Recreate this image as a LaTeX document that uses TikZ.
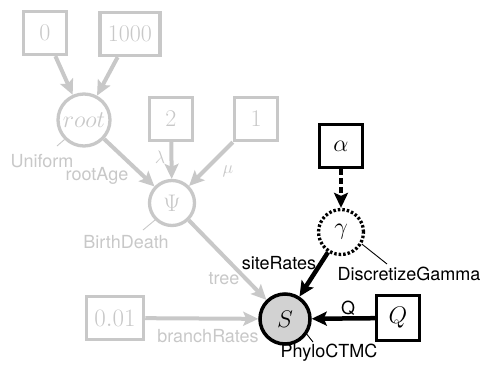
\RequirePackage{fix-cm}
\documentclass[tikz,border=0pt]{standalone}
\usepackage{fontspec}
\setsansfont{TeX Gyre Heros}
\usetikzlibrary{arrows.meta}
\definecolor{lg}{RGB}{200,200,200}
\definecolor{sfill}{RGB}{210,210,210}
\begin{document}
\begin{tikzpicture}[x=1pt,y=-1pt,
  mathf/.style={font=\fontsize{24}{28}\selectfont},
  lab/.style={font=\sffamily\fontsize{18}{21}\selectfont, inner sep=0pt},
  glab/.style={lab, text=lg},
  gbox/.style={draw=lg, line width=3.3pt, minimum width=43pt, minimum height=43pt, inner sep=8pt, text=lg, mathf},
  bbox/.style={draw=black, line width=3.3pt, minimum width=43pt, minimum height=43pt, inner sep=8pt, mathf},
  gcirc/.style={circle, draw=lg, line width=3.3pt, inner sep=0pt, text=lg, mathf},
  garrow/.style={draw=lg, line width=4pt, -{Stealth[length=15pt,width=14pt,inset=3pt]}},
  barrow/.style={draw=black, line width=4.5pt, -{Stealth[length=15pt,width=14pt,inset=3pt]}},
  gpin/.style={draw=lg, line width=0.9pt},
  bpin/.style={draw=black, line width=0.9pt}
]
\useasboundingbox (0,0) rectangle (484,367);
% nodes
\node[gbox] (n0) at (45,33) {$0$};
\node[gbox] (n1000) at (130,34) {$1000$};
\node[gcirc, minimum size=52pt] (root) at (84,120) {$root$};
\node[gbox] (n2) at (171,119) {$2$};
\node[gbox] (n1) at (256,119) {$1$};
\node[gcirc, minimum size=45pt] (psi) at (172,203) {$\Psi$};
\node[gbox, font=\fontsize{25}{29}\selectfont] (n001) at (115,318) {$0.01$};
\node[circle, draw=black, fill=sfill, line width=3.5pt, minimum size=50pt, inner sep=0pt, mathf] (S) at (285,319) {$S$};
\node[bbox] (alpha) at (341,146) {$\alpha$};
\node[circle, draw=black, line width=3.3pt, dash pattern=on 2.5pt off 2pt, minimum size=45pt, inner sep=0pt, mathf] (gamma) at (341,232) {$\gamma$};
\node[bbox, minimum height=45pt] (Q) at (398,318) {$Q$};
% labels
\node[glab] (uniform) at (42,161) {Uniform};
\node[glab] (rootage) at (97,176) {rootAge};
\node[glab, font=\fontsize{18}{21}\selectfont] (lambda) at (160,157) {$\lambda$};
\node[glab, font=\fontsize{18}{21}\selectfont] (mu) at (228,171) {$\mu$};
\node[glab] (birthdeath) at (126,242) {BirthDeath};
\node[glab] (tree) at (224,279) {tree};
\node[glab] (branchrates) at (208,336) {branchRates};
\node[lab] (siterates) at (279,263) {siteRates};
\node[lab] (phylo) at (329,353) {PhyloCTMC};
\node[lab] (discgamma) at (409,274) {DiscretizeGamma};
\node[lab] (qlab) at (348,308) {Q};
% pin coordinates
\coordinate (rootpin) at (57,146);
\coordinate (psipin) at (143,230);
\coordinate (gammapin) at (387,264);
\coordinate (Spin) at (313,342);
% edges
\draw[garrow] (n0) -- (root);
\draw[garrow] (n1000) -- (root);
\draw[garrow] (root) -- (psi);
\draw[garrow] (n2) -- (psi);
\draw[garrow] (n1) -- (psi);
\draw[garrow] (psi) -- (S);
\draw[garrow] (n001) -- (S);
\draw[barrow, dash pattern=on 6pt off 3pt] (alpha) -- (gamma);
\draw[barrow] (gamma) -- (S);
\draw[barrow] (Q) -- (S);
% pin lines
\draw[gpin] (root.225) -- (rootpin);
\draw[gpin] (psi.225) -- (psipin);
\draw[bpin] (gamma.-30) -- (gammapin);
\draw[bpin] (S.-35) -- (Spin);
\end{tikzpicture}
\end{document}
